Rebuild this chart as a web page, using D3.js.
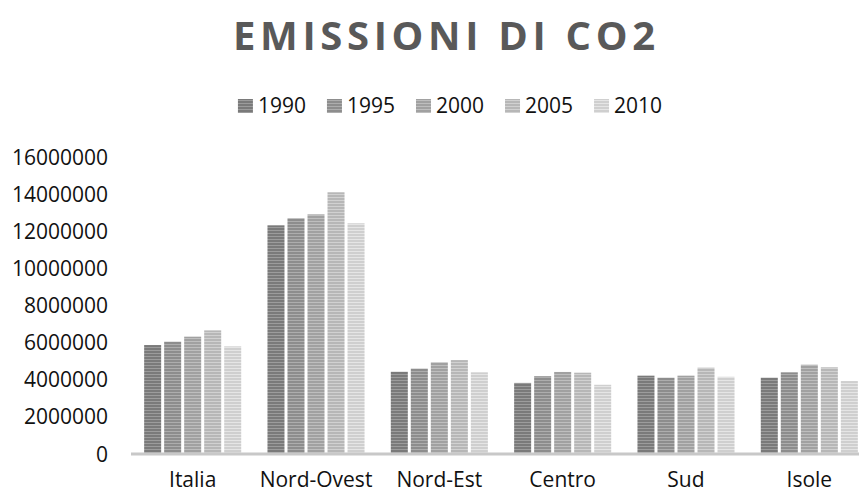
<!DOCTYPE html>
<html>
<head>
<meta charset="utf-8">
<script src="https://cdn.jsdelivr.net/npm/d3@7"></script>
<style>
  body { margin: 0; background: #fff; }
  svg { display: block; font-family: "Open Sans", sans-serif; }
</style>
</head>
<body>
<div id="chart"></div>
<script>
// data
const categories = ["Italia", "Nord-Ovest", "Nord-Est", "Centro", "Sud", "Isole"];
const years = ["1990", "1995", "2000", "2005", "2010"];
const v1990 = [5870000, 12320000, 4430000, 3830000, 4220000, 4110000];
const v1995 = [6050000, 12700000, 4600000, 4190000, 4110000, 4400000];
const v2000 = [6320000, 12910000, 4940000, 4420000, 4220000, 4810000];
const v2005 = [6660000, 14100000, 5060000, 4380000, 4650000, 4670000];
const v2010 = [5800000, 12430000, 4400000, 3730000, 4160000, 3930000];
const yTicks = [0, 2000000, 4000000, 6000000, 8000000, 10000000, 12000000, 14000000, 16000000];

const series = [v1990, v1995, v2000, v2005, v2010];
const fg = ["#7a7a7a", "#8d8d8d", "#a1a1a1", "#b7b7b7", "#cfcfcf"];
const bg = ["#9c9c9c", "#adadad", "#bebebe", "#d1d1d1", "#e5e5e5"];

const width = 859, height = 493;

const svg = d3.select("#chart").append("svg")
    .attr("width", width)
    .attr("height", height);

// striped fills
const defs = svg.append("defs");
years.forEach((yr, i) => {
    const p = defs.append("pattern")
        .attr("id", "pat" + i)
        .attr("patternUnits", "userSpaceOnUse")
        .attr("width", 6).attr("height", 3);
    p.append("rect").attr("width", 6).attr("height", 3).attr("fill", bg[i]);
    p.append("rect").attr("width", 6).attr("height", 2).attr("fill", fg[i]);
});

const x = d3.scaleBand()
    .domain(categories)
    .range([131, 871])
    .paddingInner(0.213)
    .paddingOuter(0.1066);

const x1 = d3.scaleBand()
    .domain(years)
    .range([0, x.bandwidth()])
    .paddingInner(0.15);

const y = d3.scaleLinear()
    .domain([0, 16000000])
    .range([454, 157]);

// title
svg.append("text")
    .attr("x", 444)
    .attr("y", 50)
    .attr("text-anchor", "middle")
    .attr("textLength", 422)
    .attr("lengthAdjust", "spacing")
    .style("font-size", "40px")
    .style("font-weight", "bold")
    .attr("fill", "#595959")
    .text("EMISSIONI DI CO2");

// legend
const legend = svg.append("g");
let lx = 0;
years.forEach((yr, i) => {
    const item = legend.append("g").attr("transform", `translate(${lx},0)`);
    item.append("rect")
        .attr("x", 0).attr("y", -14)
        .attr("width", 15).attr("height", 14)
        .attr("fill", `url(#pat${i})`);
    const t = item.append("text")
        .attr("x", 20).attr("y", 0)
        .style("font-size", "21px")
        .attr("fill", "#111")
        .text(yr);
    lx += 20 + t.node().getComputedTextLength() + 21;
});
legend.attr("transform", `translate(${450 - (lx - 21) / 2},113)`);

// y axis labels (no line)
svg.append("g")
    .selectAll("text")
    .data(yTicks)
    .join("text")
    .attr("x", 108)
    .attr("y", d => y(d))
    .attr("dy", "0.36em")
    .attr("text-anchor", "end")
    .style("font-size", "21px")
    .attr("fill", "#111")
    .text(d => d3.format("d")(d));

// bars
const groups = svg.append("g")
    .selectAll("g")
    .data(categories)
    .join("g")
    .attr("transform", d => `translate(${x(d)},0)`);

groups.selectAll("rect")
    .data((c, ci) => series.map((s, si) => ({ yr: years[si], i: si, v: s[ci] })))
    .join("rect")
    .attr("x", d => x1(d.yr))
    .attr("width", x1.bandwidth())
    .attr("y", d => y(d.v))
    .attr("height", d => y(0) - y(d.v))
    .attr("fill", d => `url(#pat${d.i})`);

// category axis
svg.append("line")
    .attr("x1", 131).attr("x2", 871)
    .attr("y1", y(0)).attr("y2", y(0))
    .attr("stroke", "#c8c8c8")
    .attr("stroke-width", 3);

svg.append("g")
    .selectAll("text")
    .data(categories)
    .join("text")
    .attr("x", d => x(d) + x.bandwidth() / 2)
    .attr("y", 487)
    .attr("text-anchor", "middle")
    .style("font-size", "21px")
    .attr("fill", "#111")
    .text(d => d);
</script>
</body>
</html>
